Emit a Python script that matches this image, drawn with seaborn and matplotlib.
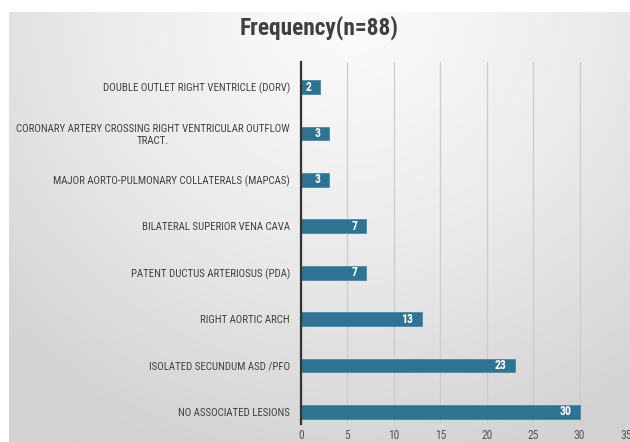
import numpy as np
import pandas as pd
import matplotlib
matplotlib.use("Agg")
import matplotlib.pyplot as plt
import seaborn as sns
from matplotlib.colors import LinearSegmentedColormap
from matplotlib import font_manager as fm

categories = [
    "DOUBLE OUTLET RIGHT VENTRICLE (DORV)",
    "CORONARY ARTERY CROSSING RIGHT VENTRICULAR OUTFLOW\nTRACT.",
    "MAJOR AORTO-PULMONARY COLLATERALS (MAPCAS)",
    "BILATERAL SUPERIOR VENA CAVA",
    "PATENT DUCTUS ARTERIOSUS (PDA)",
    "RIGHT AORTIC ARCH",
    "ISOLATED SECUNDUM ASD /PFO",
    "NO ASSOCIATED LESIONS",
]
frequency = [2, 3, 3, 7, 7, 13, 23, 30]
x_ticks = [0, 5, 10, 15, 20, 25, 30, 35]
title = "Frequency(n=88)"

df = pd.DataFrame({"category": categories, "frequency": frequency})

sns.set_theme(style="white")
names = {f.name for f in fm.fontManager.ttflist}
cands = ["Roboto Condensed", "Liberation Sans Narrow", "DejaVu Sans Condensed", "Roboto"]
fam = [n for n in cands if n in names][:1] + ["DejaVu Sans"]
plt.rcParams["font.family"] = fam
cond = [f for f in fm.fontManager.ttflist if f.name == fam[0] and f.stretch in ("condensed", "semi-condensed", 500, 300)]
stretch = "condensed" if cond else "normal"

W, H = 630, 442
fig = plt.figure(figsize=(W / 100, H / 100), dpi=100)
fig.patch.set_facecolor("white")

# gradient background panel
bg = fig.add_axes([9 / W, 0, 1 - 9 / W, (H - 12) / H])
yy, xx = np.mgrid[0:1:300j, 0:1:400j]
r = np.sqrt(((xx - 0.55) / 0.8) ** 2 + (yy / 1.1) ** 2)
cmap = LinearSegmentedColormap.from_list("g", ["#fcfcfc", "#ebebeb", "#d2d2d2"])
bg.imshow(r, cmap=cmap, aspect="auto", vmin=0, vmax=1.0, extent=[0, 1, 1, 0])
bg.set_axis_off()

ax = fig.add_axes([301 / W, (H - 424) / H, 325 / W, (424 - 62) / H])
ax.patch.set_alpha(0)

sns.barplot(data=df, x="frequency", y="category", color="#2f7393",
            width=0.30, ax=ax, saturation=1, edgecolor="#4a88a6", linewidth=0.6)

for c, v in zip(range(len(categories)), frequency):
    ax.annotate(str(v), xy=(v, c), xytext=(-6, 0), textcoords="offset points",
                ha="right", va="center", color="white", fontsize=8.5,
                fontweight="bold", fontstretch=stretch)

ax.set_xlim(0, 35)
ax.set_ylim(7.26, -0.54)
ax.set_xticks(x_ticks)
ax.set_xticklabels([str(t) for t in x_ticks])
ax.xaxis.grid(True, color="#cccccc", linewidth=0.9)
ax.set_axisbelow(True)
for s in ["top", "right", "bottom"]:
    ax.spines[s].set_visible(False)
ax.spines["left"].set_color("#333333")
ax.spines["left"].set_linewidth(1.6)
ax.tick_params(axis="x", length=0, pad=3.5, labelsize=8.3, labelcolor="#555555")
ax.tick_params(axis="y", length=0, pad=8, labelsize=7.8, labelcolor="#404040")
for lab in ax.get_yticklabels() + ax.get_xticklabels():
    lab.set_multialignment("center")
    lab.set_fontstretch(stretch)
ax.set_xlabel("")
ax.set_ylabel("")

fig.text((9 + W) / 2 / W, (H - 28) / H, title, ha="center", va="center",
         fontsize=16.8, fontweight="bold", color="#404040", fontstretch=stretch)

fig.savefig("out.png", dpi=100)
